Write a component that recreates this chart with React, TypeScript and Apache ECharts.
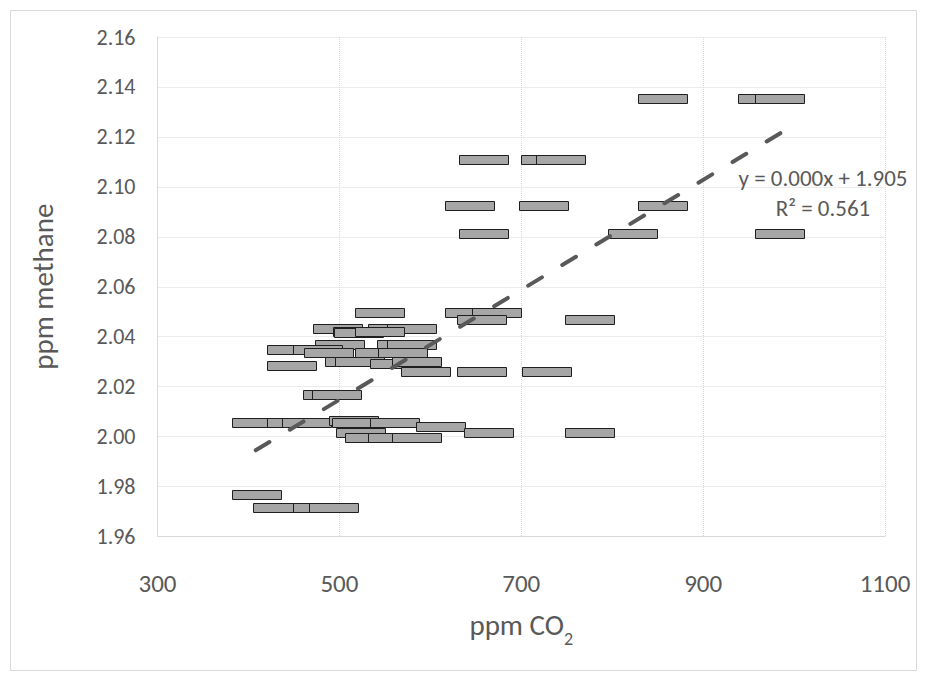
import React, { useEffect, useRef } from "react";
import * as echarts from "echarts";

// ppm CO2 (x) and ppm methane (y) for each marker
const co2 = [
  856, 966, 984,
  659, 727, 744,
  644, 725, 856,
  659, 823, 984,
  545, 644, 673,
  657, 776,
  499, 559, 580,
  520, 522, 545,
  501, 569, 580,
  448, 476,
  489, 545, 570,
  512, 523, 561, 585,
  448,
  595, 657, 728,
  488, 497,
  409, 448, 464, 516, 519, 561, 612,
  524, 664, 776,
  534, 559, 585,
  409,
  432, 477, 494,
];
const methane = [
  2.1353, 2.1353, 2.1353,
  2.1108, 2.1108, 2.1108,
  2.0923, 2.0923, 2.0923,
  2.0812, 2.0812, 2.0812,
  2.0496, 2.0496, 2.0496,
  2.0468, 2.0468,
  2.0432, 2.0432, 2.0432,
  2.0418, 2.0416, 2.0418,
  2.0368, 2.0368, 2.0365,
  2.0348, 2.0348,
  2.0334, 2.0334, 2.0334,
  2.0298, 2.0298, 2.029, 2.0298,
  2.0282,
  2.026, 2.026, 2.026,
  2.0168, 2.0168,
  2.0053, 2.0053, 2.0053, 2.0062, 2.0053, 2.0053, 2.0037,
  2.0015, 2.0015, 2.0015,
  1.9993, 1.9993, 1.9993,
  1.9765,
  1.9713, 1.9713, 1.9713,
];

const xTicks = [300, 500, 700, 900, 1100];
const yTicks = [1.96, 1.98, 2.0, 2.02, 2.04, 2.06, 2.08, 2.1, 2.12, 2.14, 2.16];

// linear trendline end points
const trendX = [408, 985];
const trendY = [1.9945, 2.1215];
const trendEquation = "y = 0.000x + 1.905";
const trendR2 = "R² = 0.561";

const xTitle = "ppm CO";
const xTitleSub = "2";
const yTitle = "ppm methane";

const FONT = "Carlito, Calibri, Lato, sans-serif";
const TEXT = "#595959";
const GRID = "#d9d9d9";

export default function App() {
  const ref = useRef<HTMLDivElement>(null);

  useEffect(() => {
    if (!ref.current) return;
    const chart = echarts.init(ref.current, undefined, { renderer: "svg" });

    const points = co2.map((x, i) => [x, methane[i]]);
    const trend = trendX.map((x, i) => [x, trendY[i]]);

    chart.setOption({
      animation: false,
      backgroundColor: "#ffffff",
      textStyle: { fontFamily: FONT },
      grid: { left: 157.5, top: 37, width: 727.5, height: 499.5, containLabel: false },
      xAxis: {
        type: "value",
        min: xTicks[0],
        max: xTicks[xTicks.length - 1],
        name: `{a|${xTitle}}{b|${xTitleSub}}`,
        nameLocation: "middle",
        nameGap: 74,
        nameTextStyle: {
          rich: {
            a: { fontSize: 29, color: TEXT, fontFamily: FONT, verticalAlign: "top", lineHeight: 32 },
            b: { fontSize: 18, color: TEXT, fontFamily: FONT, verticalAlign: "bottom", lineHeight: 37 },
          },
        },
        axisLine: { show: true, lineStyle: { color: GRID, width: 1 } },
        axisTick: { show: false, customValues: xTicks },
        axisLabel: {
          customValues: xTicks,
          margin: 34,
          fontSize: 25,
          color: TEXT,
          fontFamily: FONT,
          formatter: (v: number) => String(v),
        },
        splitLine: { show: true, lineStyle: { color: GRID, type: "dotted", width: 1 } },
      },
      yAxis: {
        type: "value",
        min: yTicks[0],
        max: yTicks[yTicks.length - 1],
        name: yTitle,
        nameLocation: "middle",
        nameRotate: 90,
        nameGap: 100,
        nameTextStyle: { fontSize: 29, color: TEXT, fontFamily: FONT },
        axisLine: { show: true, lineStyle: { color: GRID, width: 1 } },
        axisTick: { show: false, customValues: yTicks },
        axisLabel: {
          customValues: yTicks,
          margin: 22,
          fontSize: 22,
          color: TEXT,
          fontFamily: FONT,
          formatter: (v: number) => v.toFixed(2),
        },
        splitLine: { show: true, lineStyle: { color: GRID, type: "dotted", width: 1 } },
      },
      series: [
        {
          type: "custom",
          data: points,
          encode: { x: 0, y: 1 },
          z: 2,
          silent: true,
          renderItem: (params: any, api: any) => {
            const p = api.coord([api.value(0), api.value(1)]);
            const x0 = Math.round(p[0] - 25) + 0.5;
            const y0 = Math.round(p[1] - 5) + 0.5;
            return {
              type: "rect",
              shape: { x: x0, y: y0, width: 49, height: 9 },
              style: { fill: "#a6a6a6", stroke: "#1f1f1f", lineWidth: 1 },
            };
          },
        },
        {
          type: "line",
          data: trend,
          showSymbol: false,
          symbol: "none",
          lineStyle: { color: "#595959", width: 4, type: [16, 23.8], cap: "round" },
          z: 3,
          silent: true,
        },
      ],
      graphic: [
        {
          type: "rect",
          shape: { x: 10.5, y: 10.5, width: 906, height: 660 },
          style: { fill: "none", stroke: GRID, lineWidth: 1 },
          silent: true,
          z: -1,
        },
        {
          type: "text",
          x: 823,
          y: 178,
          style: {
            text: trendEquation,
            fill: TEXT,
            font: `23px ${FONT}`,
            textAlign: "center",
            textVerticalAlign: "middle",
          },
          z: 10,
        },
        {
          type: "text",
          x: 823,
          y: 208,
          style: {
            text: trendR2,
            fill: TEXT,
            font: `23px ${FONT}`,
            textAlign: "center",
            textVerticalAlign: "middle",
          },
          z: 10,
        },
      ],
    });

    return () => chart.dispose();
  }, []);

  return (
    <div
      ref={ref}
      style={{ position: "absolute", left: 0, top: 0, width: 927, height: 680 }}
    />
  );
}
